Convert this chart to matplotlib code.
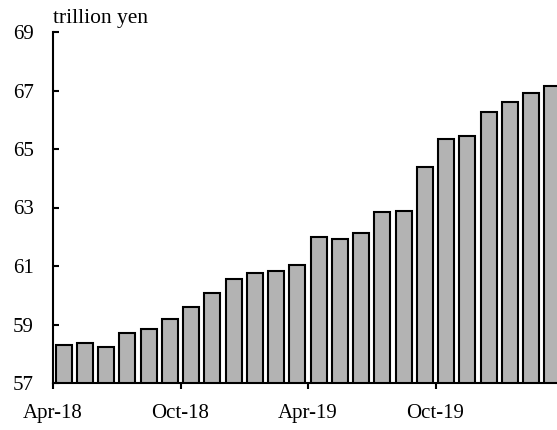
import matplotlib.pyplot as plt
import numpy as np

plt.rcParams['font.family'] = ['Liberation Serif', 'DejaVu Serif']

# monthly values, Apr-18 .. Mar-20 (trillion yen)
months = ['Apr-18', 'May-18', 'Jun-18', 'Jul-18', 'Aug-18', 'Sep-18',
          'Oct-18', 'Nov-18', 'Dec-18', 'Jan-19', 'Feb-19', 'Mar-19',
          'Apr-19', 'May-19', 'Jun-19', 'Jul-19', 'Aug-19', 'Sep-19',
          'Oct-19', 'Nov-19', 'Dec-19', 'Jan-20', 'Feb-20', 'Mar-20']
values = [58.30, 58.37, 58.23, 58.71, 58.86, 59.19,
          59.60, 60.08, 60.55, 60.77, 60.84, 61.04,
          61.99, 61.92, 62.13, 62.83, 62.89, 64.37,
          65.33, 65.46, 66.28, 66.62, 66.90, 67.17]
tick_labels = ['Apr-18', 'Oct-18', 'Apr-19', 'Oct-19']
y_ticks = [57, 59, 61, 63, 65, 67, 69]

fig = plt.figure(figsize=(5.57, 4.30), dpi=100)
ax = fig.add_axes([53/557, 47/430, 510/557, 351/430])

x = np.arange(len(values)) + 0.5
ax.bar(x, values, width=0.76, bottom=0, color='#b3b3b3',
       edgecolor='black', linewidth=1.5)

ax.set_xlim(0, len(values))
ax.set_ylim(57, 69)
ax.set_yticks(y_ticks)
ax.set_xticks([months.index(m) for m in tick_labels])
ax.set_xticklabels(tick_labels)

for s in ['top', 'right']:
    ax.spines[s].set_visible(False)
ax.spines['left'].set_linewidth(1.5)
ax.spines['bottom'].set_linewidth(1.5)
ax.tick_params(axis='y', direction='in', length=4, width=1.5, labelsize=15, pad=14)
ax.tick_params(axis='x', direction='out', length=4, width=1.5, labelsize=15, pad=11)

ax.text(0, 1.012, 'trillion yen', transform=ax.transAxes, fontsize=15.5,
        ha='left', va='bottom')

fig.savefig('out.png', dpi=100)
